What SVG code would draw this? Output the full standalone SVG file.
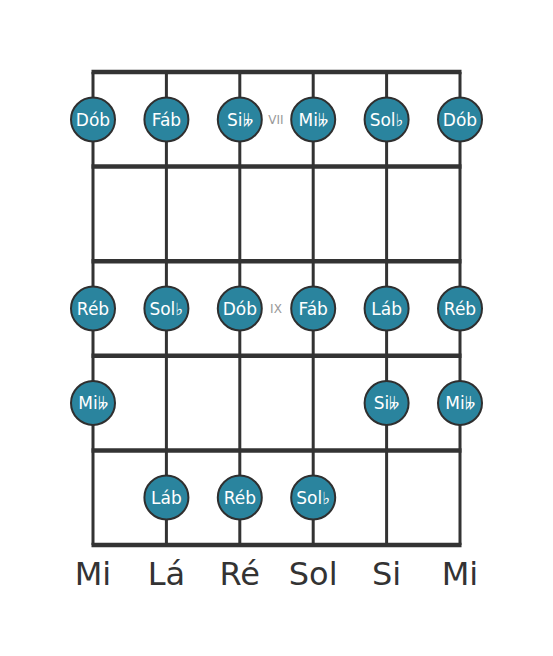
<svg xmlns="http://www.w3.org/2000/svg" width="553" height="656" viewBox="0 0 553 656">
<style>
.fret{stroke:#333;stroke-width:4.5;fill:none}
.str{stroke:#333;stroke-width:3;fill:none}
.note circle{fill:#2a849e;stroke:#2f2f2f;stroke-width:2}
.note text{fill:#fff;font-family:"DejaVu Sans",sans-serif;font-size:17px;text-anchor:middle;dominant-baseline:central}
.mk{fill:#999;font-family:"DejaVu Sans",sans-serif;font-size:12px;text-anchor:middle;dominant-baseline:central}
.lbl{fill:#333;font-family:"DejaVu Sans",sans-serif;font-size:32px;text-anchor:middle}
</style>
<rect width="553" height="656" fill="#fff"/>
<g id="connectors">
<line class="str" x1="93" y1="72" x2="93" y2="545"/>
<line class="str" x1="166.4" y1="72" x2="166.4" y2="545"/>
<line class="str" x1="239.8" y1="72" x2="239.8" y2="545"/>
<line class="str" x1="313.2" y1="72" x2="313.2" y2="545"/>
<line class="str" x1="386.6" y1="72" x2="386.6" y2="545"/>
<line class="str" x1="460" y1="72" x2="460" y2="545"/>
<line class="fret" x1="91.5" y1="72" x2="461.5" y2="72"/>
<line class="fret" x1="91.5" y1="166.6" x2="461.5" y2="166.6"/>
<line class="fret" x1="91.5" y1="261.2" x2="461.5" y2="261.2"/>
<line class="fret" x1="91.5" y1="355.8" x2="461.5" y2="355.8"/>
<line class="fret" x1="91.5" y1="450.4" x2="461.5" y2="450.4"/>
<line class="fret" x1="91.5" y1="545" x2="461.5" y2="545"/>
</g>
<text class="mk" x="276" y="120">VII</text>
<text class="mk" x="276" y="309">IX</text>
<g id="n1" class="note"><circle cx="93" cy="119.5" r="22"/><text x="93" y="119.5">Dób</text></g>
<g id="n2" class="note"><circle cx="166.4" cy="119.5" r="22"/><text x="166.4" y="119.5">Fáb</text></g>
<g id="n3" class="note"><circle cx="239.8" cy="119.5" r="22"/><text x="239.8" y="119.5">Si𝄫</text></g>
<g id="n4" class="note"><circle cx="313.2" cy="119.5" r="22"/><text x="313.2" y="119.5">Mi𝄫</text></g>
<g id="n5" class="note"><circle cx="386.6" cy="119.5" r="22"/><text x="386.6" y="119.5">Sol♭</text></g>
<g id="n6" class="note"><circle cx="460" cy="119.5" r="22"/><text x="460" y="119.5">Dób</text></g>
<g id="n7" class="note"><circle cx="93" cy="308.5" r="22"/><text x="93" y="308.5">Réb</text></g>
<g id="n8" class="note"><circle cx="166.4" cy="308.5" r="22"/><text x="166.4" y="308.5">Sol♭</text></g>
<g id="n9" class="note"><circle cx="239.8" cy="308.5" r="22"/><text x="239.8" y="308.5">Dób</text></g>
<g id="n10" class="note"><circle cx="313.2" cy="308.5" r="22"/><text x="313.2" y="308.5">Fáb</text></g>
<g id="n11" class="note"><circle cx="386.6" cy="308.5" r="22"/><text x="386.6" y="308.5">Láb</text></g>
<g id="n12" class="note"><circle cx="460" cy="308.5" r="22"/><text x="460" y="308.5">Réb</text></g>
<g id="n13" class="note"><circle cx="93" cy="403" r="22"/><text x="93" y="403">Mi𝄫</text></g>
<g id="n14" class="note"><circle cx="386.6" cy="403" r="22"/><text x="386.6" y="403">Si𝄫</text></g>
<g id="n15" class="note"><circle cx="460" cy="403" r="22"/><text x="460" y="403">Mi𝄫</text></g>
<g id="n16" class="note"><circle cx="166.4" cy="497.5" r="22"/><text x="166.4" y="497.5">Láb</text></g>
<g id="n17" class="note"><circle cx="239.8" cy="497.5" r="22"/><text x="239.8" y="497.5">Réb</text></g>
<g id="n18" class="note"><circle cx="313.2" cy="497.5" r="22"/><text x="313.2" y="497.5">Sol♭</text></g>
<g id="labels">
<text class="lbl" x="93" y="585">Mi</text>
<text class="lbl" x="166.4" y="585">Lá</text>
<text class="lbl" x="239.8" y="585">Ré</text>
<text class="lbl" x="313.2" y="585">Sol</text>
<text class="lbl" x="386.6" y="585">Si</text>
<text class="lbl" x="460" y="585">Mi</text>
</g>
</svg>
